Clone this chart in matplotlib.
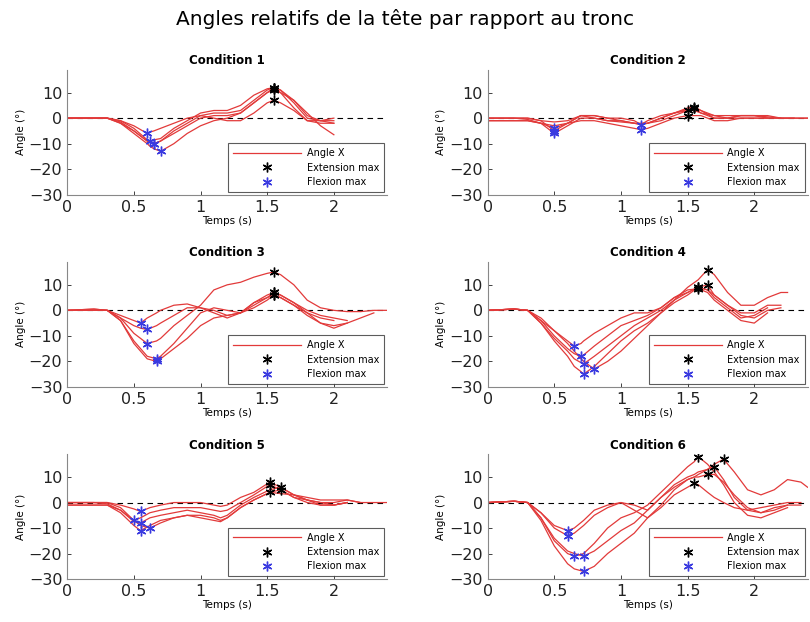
import numpy as np
import matplotlib
matplotlib.use("Agg")
import matplotlib.pyplot as plt

# Knot times (s) and angle traces (deg), one block per condition
c1_t = [0, 0.2, 0.3, 0.4, 0.5, 0.6, 0.62, 0.65, 0.7, 0.8, 0.9, 1.0, 1.1, 1.2, 1.3, 1.4, 1.5, 1.55, 1.6, 1.7, 1.8, 1.9, 2.0]
c1_curves = [
    [0, 0, 0, -2, -6, -10, -11, -12, -13, -10, -6, -3, -1, 0, 2, 6, 10, 12, 11, 7, 2, -3, -6.5],
    [0, 0, 0, -1.5, -5, -9, -9.5, -10, -9, -5, -2, 1, 2, 2, 3, 7, 11, 12, 11, 6, 0, -1, -1],
    [0, 0, 0, -1, -4, -8.5, -9, -8.5, -8, -4, -1, 2, 3, 3, 5, 9, 11.5, 12, 10, 4, -1, -1, -2],
    [0, 0, 0, -1, -3, -6, -5.5, -5, -4, -2, 0, 1, 0, -1, -1, 2, 6, 7, 6, 3, -1, -2, -2],
    [0, 0, 0, -2, -5, -9, -9.5, -10, -9, -6, -3, 0, 1, 1, 2, 6, 10, 11, 10, 7, 1, -1, 0],
]

c2_t = [0, 0.2, 0.3, 0.4, 0.5, 0.6, 0.7, 0.8, 0.9, 1.0, 1.1, 1.15, 1.2, 1.3, 1.4, 1.5, 1.55, 1.6, 1.7, 1.8, 1.9, 2.0, 2.1, 2.2, 2.3, 2.4]
c2_curves = [
    [0, 0, 0, -1, -5, -2, 1, 0, -1, -1, -2, -2.5, -2, 0, 2, 4, 4.5, 3, 0, 0, 1, 1, 0.5, 0, 0, 0],
    [0, 0, -0.5, -2, -6, -3, 0, 0, -1, -1.5, -2, -2.5, -2, -1, 1, 3, 4, 3, 1, 0, 0, 0, 0, 0, np.nan, np.nan],
    [-1, -1, -1, -2, -4, -2, 1, 1, 0, -1, -2, -2, -2, 0, 2, 3, 3, 2, 0, 0, 1, 1, 1, 0, 0, np.nan],
    [-1, -1, -1, -2, -3, -2, -1, -1, -2, -3, -4, -4.5, -4, -2, 0, 1, 1, 1, -1, -1, 0, 0, 0, np.nan, np.nan, np.nan],
    [0, 0, 0, -1, -1.5, -1, 1, 1, 0, 0, -1, -2.5, -1, 1, 2, 3.5, 4, 2, 1, 1, 1, 1, 0, 0, 0, 0],
]

c3_t = [0, 0.2, 0.3, 0.4, 0.5, 0.55, 0.6, 0.67, 0.7, 0.8, 0.9, 1.0, 1.1, 1.2, 1.3, 1.4, 1.5, 1.55, 1.6, 1.7, 1.8, 1.9, 2.0, 2.1, 2.2, 2.3, 2.4]
c3_curves = [
    [0, 0.5, 0, -2, -4, -5, -3, -1, 0, 2, 2.5, 1, 0, -2, -1, 3, 6, 7, 6, 3, 0, -2, -3, -4, np.nan, np.nan, np.nan],
    [0, 0.5, 0, -3, -6, -7, -7.5, -6, -5, -2, 1, 1, -1, -3, -1, 3, 5, 6, 5, 2, -1, -3, -4, np.nan, np.nan, np.nan, np.nan],
    [0, 0, 0, -3, -9, -11, -13, -12, -11, -6, -2, 2, 8, 10, 11, 13, 14.5, 15, 14, 10, 4, 1, 0, -0.5, -0.5, 0, 0],
    [0, 0, 0, -4, -12, -15, -18, -19, -18, -13, -7, -1, 1, 0, -1, 2, 5, 7, 6, 3, -1, -5, -7, -5, -3, -1, np.nan],
    [0, 0, 0, -4, -13, -16, -19, -20, -19, -15, -11, -6, -3, -2, -1, 1, 4, 6, 5, 2, -2, -5, -6, -5, np.nan, np.nan, np.nan],
]

c4_t = [0, 0.2, 0.3, 0.4, 0.5, 0.6, 0.65, 0.7, 0.72, 0.8, 0.9, 1.0, 1.1, 1.2, 1.3, 1.4, 1.5, 1.58, 1.65, 1.7, 1.8, 1.9, 2.0, 2.1, 2.2, 2.25]
c4_curves = [
    [0, 0.5, 0, -4, -8, -12, -14, -13, -12, -9, -6, -3, -1, -1, 1, 5, 7, 9, 8, 6, 2, -2, -3, 0, 1, np.nan],
    [0, 0.5, 0, -4, -10, -15, -17, -18, -17.5, -14, -10, -6, -4, -2, 1, 5, 8, 8.5, 7, 4, 0, -4, -5, -1, np.nan, np.nan],
    [0, 0.5, 0, -5, -11, -16, -19, -20.5, -21, -18, -14, -10, -6, -3, 0, 4, 7, 9, 8, 5, 1, -3, -2, 1, np.nan, np.nan],
    [0, 0.5, 0, -5, -12, -18, -22, -24, -25, -22, -17, -12, -8, -5, -1, 3, 6, 9, 10, 6, 2, -1, -1, 2, 2, np.nan],
    [0, 0.5, 0, -3, -8, -13, -16, -19, -20, -23, -20, -16, -11, -6, -1, 4, 9, 12, 16, 14, 7, 2, 2, 5, 7, 7],
]

c5_t = [0, 0.2, 0.3, 0.4, 0.5, 0.55, 0.62, 0.7, 0.8, 0.9, 1.0, 1.1, 1.15, 1.2, 1.3, 1.4, 1.52, 1.6, 1.7, 1.8, 1.9, 2.0, 2.1, 2.2, 2.3, 2.4]
c5_curves = [
    [0, 0, 0, -1, -2.5, -3.5, -2, -1, 0, 0, 0, -1, -1.5, -1, 2, 4, 8, 6, 3, 2, 1, 1, 1, 0, 0, 0],
    [0, 0, 0, -2, -7, -6, -4, -3, -2, -2, -2, -3, -3.5, -3, 0, 3, 7, 5, 2, 1, 0, 0, 1, 0, np.nan, np.nan],
    [0, 0, -0.5, -3, -7.5, -8, -6, -5, -4, -3, -4, -5, -6, -5, -1, 2, 5, 6, 3, 1, -1, -1, 0, np.nan, np.nan, np.nan],
    [-1, -1, -1, -4, -9, -11, -9, -7, -6, -5, -5, -6, -7, -6, -2, 1, 4, 5, 2, 0, -1, -1, 0, np.nan, np.nan, np.nan],
    [-1, -1, -1, -3, -7, -9, -10, -8, -6, -5, -6, -7, -7.5, -6, -2, 1, 4, 3.5, 3, 1, 0, -1, 0, np.nan, np.nan, np.nan],
]

c6_t = [0, 0.2, 0.3, 0.4, 0.5, 0.6, 0.65, 0.72, 0.8, 0.9, 1.0, 1.1, 1.2, 1.3, 1.4, 1.5, 1.55, 1.58, 1.65, 1.7, 1.77, 1.85, 1.95, 2.05, 2.15, 2.25, 2.35, 2.4]
c6_curves = [
    [0, 0.5, 0, -4, -9, -11, -10, -7, -3, -1, 0, -3, -6, -2, 3, 6, 7.5, 7, 4, 2, 0, -2, -3, -2, -1, 0, 0, np.nan],
    [0, 0.5, 0, -4, -10, -13, -12, -9, -5, -2, 0, -1, -3, 2, 7, 10, 11, 12, 13, 14, 9, 2, -3, -4, -2, -1, -1, np.nan],
    [0, 0.5, 0, -6, -15, -20, -21, -20, -16, -10, -6, -4, -1, 4, 9, 14, 16, 18, 15, 12, 7, 0, -5, -6, -4, -2, np.nan, np.nan],
    [0, 0.5, 0, -6, -14, -19, -20, -21, -19, -15, -11, -8, -3, 2, 6, 9, 10, 10, 11, 11, 8, 3, -2, -4, -3, -1, np.nan, np.nan],
    [0, 0.5, 0, -7, -17, -24, -26, -27, -25, -20, -16, -12, -6, -1, 5, 9, 10, 11, 13, 15, 17, 12, 5, 3, 5, 9, 8, 6],
]

titles = ["Condition 1", "Condition 2", "Condition 3", "Condition 4", "Condition 5", "Condition 6"]
all_t = [c1_t, c2_t, c3_t, c4_t, c5_t, c6_t]
all_curves = [c1_curves, c2_curves, c3_curves, c4_curves, c5_curves, c6_curves]

# axes boxes in figure fraction (left, bottom, width, height)
lefts = [0.083, 0.602]
bottoms = [0.687, 0.378, 0.069]
W, H = 0.395, 0.201

RED = "#e23a3a"
ASTER = (6, 2, 0)  # asterisk marker, MATLAB style

fig = plt.figure(figsize=(8.1, 6.22), dpi=100)
fig.suptitle("Angles relatifs de la tête par rapport au tronc", fontsize=14.5, y=0.985)

for i in range(6):
    ax = fig.add_axes([lefts[i % 2], bottoms[i // 2], W, H])
    t = np.array(all_t[i])
    first = True
    for y in all_curves[i]:
        y = np.array(y, dtype=float)
        ax.plot(t, y, color=RED, lw=0.9, label="Angle X" if first else None, zorder=2)
        first = False
    # extrema markers
    for j, y in enumerate(all_curves[i]):
        y = np.array(y, dtype=float)
        imax, imin = np.nanargmax(y), np.nanargmin(y)
        ax.plot(t[imax], y[imax], marker=ASTER, ls="none", color="black", ms=7, mew=1.0,
                label="Extension max" if j == 0 else None, zorder=4)
        ax.plot(t[imin], y[imin], marker=ASTER, ls="none", color="#3a3ae0", ms=7, mew=1.0,
                label="Flexion max" if j == 0 else None, zorder=4)
    ax.axhline(0, color="black", ls=(0, (5, 4)), lw=0.8, zorder=1)

    ax.set_xlim(0, 2.4)
    ax.set_ylim(-30, 19)
    ax.set_xticks([0, 0.5, 1, 1.5, 2])
    ax.set_xticklabels(["0", "0.5", "1", "1.5", "2"])
    ax.set_yticks([-30, -20, -10, 0, 10])
    ax.tick_params(direction="in", labelsize=11.5, colors="#222222", length=3, width=0.6)
    for s in ["top", "right"]:
        ax.spines[s].set_visible(False)
    for s in ["left", "bottom"]:
        ax.spines[s].set_color("#888888")
        ax.spines[s].set_linewidth(0.8)
    ax.set_xlabel("Temps (s)", fontsize=7.5, labelpad=1)
    ax.set_ylabel("Angle (°)", fontsize=7.5, labelpad=2)
    ax.set_title(titles[i], fontsize=8.5, fontweight="bold", pad=4)

    leg = ax.legend(loc="lower right", fontsize=7, frameon=True, fancybox=False,
                    borderaxespad=0.3, handlelength=7, borderpad=0.5, labelspacing=0.45,
                    handletextpad=0.6)
    leg.get_frame().set_edgecolor("#333333")
    leg.get_frame().set_linewidth(0.8)

fig.savefig("out.png", dpi=100)
